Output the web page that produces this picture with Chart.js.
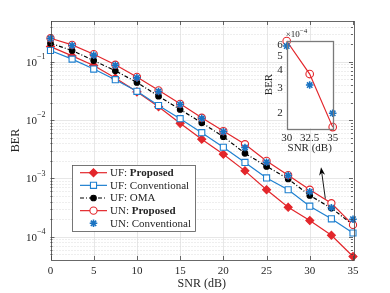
<!DOCTYPE html>
<html>
<head>
<meta charset="utf-8">
<script src="https://cdn.jsdelivr.net/npm/chart.js@4.4.0/dist/chart.umd.min.js"></script>
<style>
  html, body { margin: 0; padding: 0; background: #fff; }
  #wrap { position: relative; width: 390px; height: 293px; }
  #main { position: absolute; left: 0; top: 0; }
  #inset { position: absolute; left: 255px; top: 28px; }
</style>
</head>
<body>
<div id="wrap">
  <canvas id="main" width="390" height="293"></canvas>
  <canvas id="inset" width="90" height="130"></canvas>
</div>
<script>
// values
const snr = [0, 2.5, 5, 7.5, 10, 12.5, 15, 17.5, 20, 22.5, 25, 27.5, 30, 32.5, 35];
const ufProposed = [0.182, 0.126, 0.0865, 0.0527, 0.0305, 0.0169, 0.0088, 0.0047, 0.0026, 0.00135, 6.4e-4, 3.2e-4, 1.9e-4, 1.06e-4, 4.6e-5];
const ufConventional = [0.156, 0.111, 0.075, 0.0493, 0.0312, 0.0178, 0.0106, 0.0061, 0.00343, 0.00188, 0.00102, 6.4e-4, 3.35e-4, 2.03e-4, 1.16e-4];
const ufOMA = [0.208, 0.156, 0.105, 0.070, 0.0443, 0.0257, 0.0152, 0.0090, 0.0052, 0.0027, 0.00161, 9.8e-4, 5.1e-4, 3.1e-4, 1.6e-4];
const unProposed = [0.253, 0.195, 0.135, 0.089, 0.055, 0.0324, 0.019, 0.011, 0.0065, 0.00386, 0.0020, 0.00114, 6.4e-4, 3.76e-4, 1.6e-4];
const unConventional = [0.25, 0.19, 0.13, 0.087, 0.053, 0.031, 0.0185, 0.0107, 0.0063, 0.0034, 0.0019, 0.00112, 5.9e-4, 3.15e-4, 2.0e-4];

const xTicks = [0, 5, 10, 15, 20, 25, 30, 35];
const yDecades = [-4, -3, -2, -1];
const insetXTicks = [30, 32.5, 35];
const insetYTicks = [2e-4, 3e-4, 4e-4, 5e-4, 6e-4];

// arrow from the curves to the zoom window (data coords)
const arrowTail = { x: 31.8, y: 4.5e-4 };
const arrowHead = { x: 31.3, y: 1.55e-3 };

const FONT = "'Liberation Serif', 'Times New Roman', serif";
const RED = '#e3262b';
const BLUE = '#1f80d0';
const STAR = '#1a73c2';
const TXT = '#262626';

const pts = (xs, ys) => xs.map((x, i) => ({ x: x, y: ys[i] }));

const series = [
  { label: ['UF: ', 'Proposed'], data: ufProposed, color: RED, style: 'rectRot', r: 4, fill: RED, line: true, dash: [] },
  { label: ['UF: Conventional'], data: ufConventional, color: BLUE, style: 'rect', r: 4.3, fill: '#fff', line: true, dash: [] },
  { label: ['UF: OMA'], data: ufOMA, color: '#000', style: 'circle', r: 2.8, fill: '#000', line: true, dash: [4, 2, 1, 2] },
  { label: ['UN: ', 'Proposed'], data: unProposed, color: RED, style: 'circle', r: 3.6, fill: '#fff', line: true, dash: [] },
  { label: ['UN: Conventional'], data: unConventional, color: STAR, style: 'star', r: 3.8, fill: STAR, line: false, dash: [] },
];

const datasets = series.map((s, i) => ({
  data: pts(snr, s.data),
  borderColor: s.color,
  borderWidth: 1.2,
  borderDash: s.dash,
  showLine: s.line,
  pointStyle: s.style,
  pointRadius: s.r,
  pointBorderColor: s.color,
  pointBackgroundColor: s.fill,
  pointBorderWidth: s.style === 'star' ? 1.6 : 1.1,
  order: -i,
  clip: false,
  tension: 0,
}));

const mainFrame = {
  id: 'mainFrame',
  beforeDatasetsDraw(chart) {
    const { ctx, chartArea: a, scales: { x, y } } = chart;
    ctx.save();
    ctx.lineWidth = 0.7;
    // minor + major y grid
    for (let d = -5; d <= 0; d++) {
      for (let m = 1; m <= 9; m++) {
        const v = m * Math.pow(10, d);
        if (v <= y.min || v >= y.max) continue;
        const py = Math.round(y.getPixelForValue(v)) + 0.5;
        ctx.beginPath();
        if (m === 1) { ctx.setLineDash([]); ctx.strokeStyle = '#dcdcdc'; }
        else { ctx.setLineDash([1, 2]); ctx.strokeStyle = '#cfcfcf'; }
        ctx.moveTo(a.left, py); ctx.lineTo(a.right, py); ctx.stroke();
      }
    }
    ctx.setLineDash([]);
    ctx.strokeStyle = '#dcdcdc';
    xTicks.forEach(v => {
      if (v <= x.min || v >= x.max) return;
      const px = Math.round(x.getPixelForValue(v)) + 0.5;
      ctx.beginPath(); ctx.moveTo(px, a.top); ctx.lineTo(px, a.bottom); ctx.stroke();
    });
    ctx.restore();
  },
  afterDraw(chart) {
    const { ctx, chartArea: a, scales: { x, y } } = chart;
    ctx.save();
    // box + inner ticks
    ctx.strokeStyle = '#444';
    ctx.lineWidth = 0.8;
    ctx.strokeRect(Math.round(a.left) + 0.5, Math.round(a.top) + 0.5, Math.round(a.right - a.left), Math.round(a.bottom - a.top));
    ctx.beginPath();
    for (let d = -5; d <= 0; d++) {
      for (let m = 1; m <= 9; m++) {
        const v = m * Math.pow(10, d);
        if (v <= y.min || v >= y.max) continue;
        const py = Math.round(y.getPixelForValue(v)) + 0.5;
        const len = m === 1 ? 4 : 2;
        ctx.moveTo(a.left, py); ctx.lineTo(a.left + len, py);
        ctx.moveTo(a.right, py); ctx.lineTo(a.right - len, py);
      }
    }
    xTicks.forEach(v => {
      const px = Math.round(x.getPixelForValue(v)) + 0.5;
      ctx.moveTo(px, a.bottom); ctx.lineTo(px, a.bottom - 4);
      ctx.moveTo(px, a.top); ctx.lineTo(px, a.top + 4);
    });
    ctx.stroke();

    // y tick labels 10^n
    ctx.fillStyle = TXT;
    ctx.textBaseline = 'middle';
    const rightX = a.left - 5;
    yDecades.forEach(d => {
      const py = y.getPixelForValue(Math.pow(10, d));
      const exp = '\u2212' + Math.abs(d);
      ctx.font = '8px ' + FONT;
      const ew = ctx.measureText(exp).width;
      ctx.textAlign = 'left';
      ctx.fillText(exp, rightX - ew, py - 5);
      ctx.font = '11px ' + FONT;
      ctx.textAlign = 'right';
      ctx.fillText('10', rightX - ew, py + 1);
    });

    // arrow
    const tx = x.getPixelForValue(arrowTail.x), ty = y.getPixelForValue(arrowTail.y);
    const hx = x.getPixelForValue(arrowHead.x), hy = y.getPixelForValue(arrowHead.y);
    const ang = Math.atan2(hy - ty, hx - tx);
    ctx.strokeStyle = '#000'; ctx.fillStyle = '#000'; ctx.lineWidth = 0.9;
    ctx.beginPath(); ctx.moveTo(tx, ty); ctx.lineTo(hx - 5 * Math.cos(ang), hy - 5 * Math.sin(ang)); ctx.stroke();
    ctx.beginPath();
    ctx.moveTo(hx, hy);
    ctx.lineTo(hx - 8 * Math.cos(ang) + 3 * Math.sin(ang), hy - 8 * Math.sin(ang) - 3 * Math.cos(ang));
    ctx.lineTo(hx - 5.5 * Math.cos(ang), hy - 5.5 * Math.sin(ang));
    ctx.lineTo(hx - 8 * Math.cos(ang) - 3 * Math.sin(ang), hy - 8 * Math.sin(ang) + 3 * Math.cos(ang));
    ctx.closePath(); ctx.fill();

    // legend
    const L = 72, T = 165, W = 123, H = 66;
    ctx.fillStyle = '#fff';
    ctx.fillRect(L, T, W, H);
    ctx.strokeStyle = '#555'; ctx.lineWidth = 0.8;
    ctx.strokeRect(L + 0.5, T + 0.5, W, H);
    series.forEach((s, i) => {
      const cy = T + 7.7 + i * 12.65;
      if (s.line) {
        ctx.strokeStyle = s.color; ctx.lineWidth = 1.2;
        ctx.setLineDash(s.dash);
        ctx.beginPath(); ctx.moveTo(L + 8, cy); ctx.lineTo(L + 35, cy); ctx.stroke();
        ctx.setLineDash([]);
      }
      ctx.strokeStyle = s.color; ctx.fillStyle = s.fill;
      ctx.lineWidth = s.style === 'star' ? 1.6 : 1.1;
      Chart.helpers.drawPoint(ctx, { pointStyle: s.style, radius: s.r, rotation: 0, borderWidth: ctx.lineWidth }, L + 21.5, cy);
      let tx2 = L + 38;
      ctx.fillStyle = TXT; ctx.textAlign = 'left'; ctx.textBaseline = 'middle';
      s.label.forEach((part, k) => {
        ctx.font = (k === 1 ? 'bold ' : '') + '11px ' + FONT;
        ctx.fillText(part, tx2, cy + 0.5);
        tx2 += ctx.measureText(part).width;
      });
    });
    ctx.restore();
  }
};

new Chart(document.getElementById('main'), {
  type: 'line',
  data: { datasets: datasets },
  options: {
    responsive: false,
    animation: false,
    events: [],
    layout: { padding: { top: 21, right: 37, left: 0, bottom: 0 } },
    plugins: { legend: { display: false }, tooltip: { enabled: false } },
    scales: {
      x: {
        type: 'linear', min: 0, max: 35,
        afterBuildTicks: s => { s.ticks = xTicks.map(v => ({ value: v })); },
        ticks: { font: { family: FONT, size: 11 }, color: TXT, padding: 5, maxRotation: 0, autoSkip: false },
        grid: { display: false, drawTicks: false },
        border: { display: false },
        title: { display: true, text: 'SNR (dB)', font: { family: FONT, size: 12 }, color: TXT, padding: { top: 0, bottom: 2 } },
        afterFit: s => { s.height = 33; },
      },
      y: {
        type: 'logarithmic', min: 4e-5, max: 0.5,
        ticks: { display: false },
        grid: { display: false, drawTicks: false },
        border: { display: false },
        title: { display: true, text: 'BER', font: { family: FONT, size: 12 }, color: TXT, padding: { top: 9, bottom: 0 } },
        afterFit: s => { s.width = 50.5; },
      },
    },
  },
  plugins: [mainFrame],
});

// zoomed window
const insetFrame = {
  id: 'insetFrame',
  beforeDatasetsDraw(chart) {
    const { ctx, chartArea: a } = chart;
    ctx.save();
    ctx.fillStyle = '#fff';
    ctx.fillRect(a.left, a.top, a.right - a.left, a.bottom - a.top);
    ctx.restore();
  },
  afterDraw(chart) {
    const { ctx, chartArea: a } = chart;
    ctx.save();
    ctx.strokeStyle = '#7a7a7a'; ctx.lineWidth = 1.3;
    ctx.strokeRect(Math.round(a.left) + 0.5, Math.round(a.top) + 0.5, Math.round(a.right - a.left), Math.round(a.bottom - a.top));
    ctx.fillStyle = TXT; ctx.textBaseline = 'alphabetic'; ctx.textAlign = 'left';
    ctx.font = '9px ' + FONT;
    ctx.fillText('\u00d710', a.left - 1, a.top - 4);
    const w = ctx.measureText('\u00d710').width;
    ctx.font = '7px ' + FONT;
    ctx.fillText('\u22124', a.left - 1 + w, a.top - 8);
    ctx.restore();
  }
};

new Chart(document.getElementById('inset'), {
  type: 'line',
  data: {
    datasets: [
      { data: pts(insetXTicks, unProposed.slice(12)), borderColor: RED, borderWidth: 1.2, pointStyle: 'circle', pointRadius: 3.8,
        pointBorderColor: RED, pointBackgroundColor: 'rgba(255,255,255,0)', pointBorderWidth: 1.1, clip: false, order: 1 },
      { data: pts(insetXTicks, unConventional.slice(12)), showLine: false, pointStyle: 'star', pointRadius: 3.8,
        pointBorderColor: STAR, pointBorderWidth: 1.6, clip: false, order: 0 },
    ],
  },
  options: {
    responsive: false,
    animation: false,
    events: [],
    layout: { padding: { top: 12.7, right: 12.3, left: 0, bottom: 0 } },
    plugins: { legend: { display: false }, tooltip: { enabled: false } },
    scales: {
      x: {
        type: 'linear', min: 30, max: 35,
        afterBuildTicks: s => { s.ticks = insetXTicks.map(v => ({ value: v })); },
        ticks: { font: { family: FONT, size: 11 }, color: TXT, padding: 3, maxRotation: 0, autoSkip: false },
        grid: { display: false, drawTicks: false },
        border: { display: false },
        title: { display: true, text: 'SNR (dB)', font: { family: FONT, size: 11 }, color: TXT, padding: { top: 0, bottom: 3 } },
        afterFit: s => { s.height = 29.7; },
      },
      y: {
        type: 'logarithmic', min: 1.57e-4, max: 6.43e-4,
        afterBuildTicks: s => { s.ticks = insetYTicks.map(v => ({ value: v })); },
        ticks: { font: { family: FONT, size: 11 }, color: TXT, padding: 4, autoSkip: false, callback: v => String(Math.round(v * 1e4)) },
        grid: { display: false, drawTicks: false },
        border: { display: false },
        title: { display: true, text: 'BER', font: { family: FONT, size: 11 }, color: TXT, padding: { top: 8, bottom: 0 } },
        afterFit: s => { s.width = 31.7; },
      },
    },
  },
  plugins: [insetFrame],
});
</script>
</body>
</html>
